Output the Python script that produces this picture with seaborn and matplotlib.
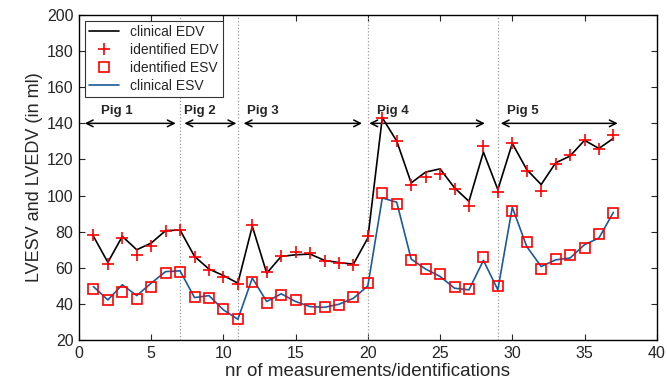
import numpy as np
import pandas as pd
import matplotlib
matplotlib.use("Agg")
import matplotlib.pyplot as plt
import seaborn as sns

# ---- data ----
measurements = list(range(1, 38))

clinical_edv = [77.5, 63.0, 77.4, 70.0, 73.7, 80.6, 80.9, 66.3, 59.3, 55.7,
                51.5, 83.0, 57.0, 66.3, 67.2, 67.6, 64.1, 62.9, 62.0, 76.5,
                143.1, 130.2, 107.0, 113.0, 114.8, 104.3, 96.8, 124.1, 103.3,
                128.9, 114.4, 106.1, 118.1, 121.9, 130.6, 126.1, 131.7]

identified_edv = [77.9, 62.0, 76.5, 67.2, 71.8, 80.6, 80.7, 65.9, 58.9, 54.8,
                  50.9, 83.9, 57.9, 66.7, 68.7, 68.1, 63.9, 62.9, 61.7, 77.4,
                  143.1, 130.2, 105.6, 110.2, 112.0, 103.7, 94.1, 127.4, 101.8,
                  129.3, 113.5, 102.4, 117.4, 122.4, 130.6, 125.6, 133.5]

clinical_esv = [49.6, 42.2, 50.6, 44.6, 51.5, 57.9, 58.3, 43.5, 44.6, 36.7,
                31.5, 54.3, 41.3, 45.6, 41.3, 38.5, 38.1, 39.8, 43.1, 50.0,
                98.7, 96.3, 64.8, 59.3, 55.2, 48.7, 47.8, 64.1, 47.8,
                93.5, 71.8, 60.7, 64.4, 65.4, 72.8, 76.5, 90.7]

identified_esv = [48.1, 42.2, 46.8, 42.9, 49.4, 57.0, 57.9, 44.1, 43.3, 37.0,
                  31.5, 52.4, 40.4, 44.8, 41.9, 37.4, 38.1, 39.4, 43.9, 51.5,
                  101.5, 95.4, 64.4, 59.3, 56.5, 49.6, 48.1, 65.9, 50.0,
                  91.7, 74.1, 59.4, 64.8, 67.1, 71.1, 78.7, 90.2]

# pig boundaries (dotted lines) and the arrow spans
pig_boundaries = [7, 11, 20, 29]
pig_labels = ["Pig 1", "Pig 2", "Pig 3", "Pig 4", "Pig 5"]
pig_label_x = [1.5, 7.3, 11.6, 20.6, 29.6]
pig_arrow_start = [0.4, 7.3, 11.4, 20.1, 29.2]
pig_arrow_end = [6.7, 10.9, 19.6, 28.1, 37.3]
arrow_y = 140
label_y = 145

df = pd.DataFrame({
    "x": measurements,
    "clinical_edv": clinical_edv,
    "identified_edv": identified_edv,
    "clinical_esv": clinical_esv,
    "identified_esv": identified_esv,
})

sns.set_style("ticks")
plt.rcParams["font.family"] = ["Liberation Sans", "DejaVu Sans"]

fig = plt.figure(figsize=(6.67, 3.82), dpi=100)
ax = fig.add_axes([0.1184, 0.1099, 0.8662, 0.8508])

blue = "#1c5a9c"

sns.lineplot(data=df, x="x", y="clinical_edv", ax=ax, color="black",
             linewidth=1.2, label="clinical EDV", zorder=3)
ax.plot(df["x"], df["identified_edv"], linestyle="none", marker="+",
        color="red", markersize=9, markeredgewidth=1.2,
        label="identified EDV", zorder=4)
ax.plot(df["x"], df["identified_esv"], linestyle="none", marker="s",
        markerfacecolor="none", markeredgecolor="red", markersize=7.5,
        markeredgewidth=1.2, label="identified ESV", zorder=4)
sns.lineplot(data=df, x="x", y="clinical_esv", ax=ax, color=blue,
             linewidth=1.2, label="clinical ESV", zorder=3)

for b in pig_boundaries:
    ax.axvline(b, color="#999999", linestyle=":", linewidth=0.9, zorder=1)

for lab, lx, s, e in zip(pig_labels, pig_label_x, pig_arrow_start, pig_arrow_end):
    ax.annotate("", xy=(e, arrow_y), xytext=(s, arrow_y),
                arrowprops=dict(arrowstyle="<->", color="black", lw=1.1,
                                mutation_scale=12, shrinkA=0, shrinkB=0))
    ax.text(lx, label_y, lab, fontsize=9.5, fontweight="bold", va="baseline")

ax.set_xlim(0, 40)
ax.set_ylim(20, 200)
ax.set_xticks(range(0, 41, 5))
ax.set_yticks(range(20, 201, 20))
ax.tick_params(direction="in", top=True, right=True, labelsize=11.5,
               length=4, width=0.8, pad=4)
for sp in ax.spines.values():
    sp.set_visible(True)
    sp.set_linewidth(1.0)
    sp.set_color("black")

ax.set_xlabel("nr of measurements/identifications", fontsize=13.5, labelpad=2)
ax.set_ylabel("LVESV and LVEDV (in ml)", fontsize=13, labelpad=3)

leg = ax.legend(loc="upper left", fontsize=10, frameon=True, fancybox=False,
                edgecolor="black", borderpad=0.3, labelspacing=0.3,
                handlelength=2.2, borderaxespad=0.4)
leg.get_frame().set_linewidth(0.8)

fig.savefig("out.png", dpi=100)
